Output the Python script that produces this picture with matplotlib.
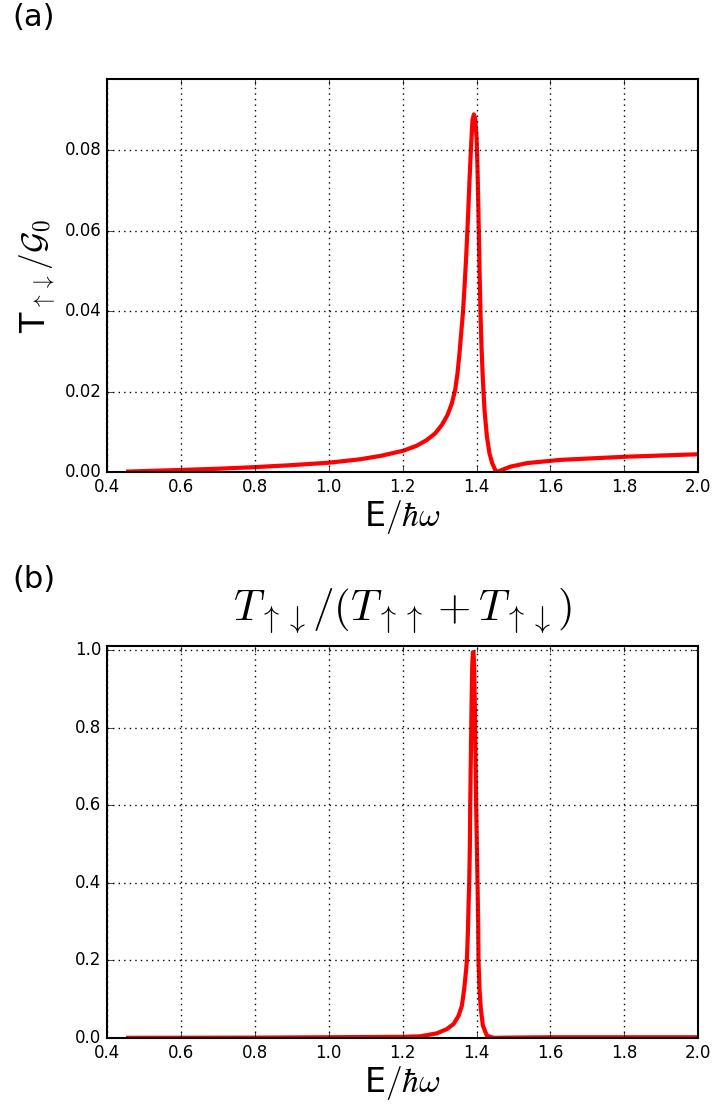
import matplotlib
matplotlib.use("Agg")
import matplotlib.pyplot as plt

plt.style.use("classic")
plt.rcParams["mathtext.fontset"] = "cm"
plt.rcParams["font.family"] = ["DejaVu Sans"]

# panel (a): T_updown / G0
e_a = [0.457, 0.6, 0.7, 0.8, 0.9, 1.0, 1.085, 1.1436, 1.2022, 1.2383, 1.2654,
       1.2879, 1.306, 1.3213, 1.3331, 1.342, 1.3483, 1.3537, 1.3583, 1.3629,
       1.3673, 1.3718, 1.3764, 1.3808, 1.3854, 1.3889, 1.3927, 1.3962, 1.3998,
       1.4024, 1.4051, 1.4078, 1.4106, 1.4133, 1.417, 1.4214, 1.4279, 1.4349,
       1.4422, 1.4504, 1.4566, 1.4685, 1.491, 1.5362, 1.626, 1.807, 2.0]
t_a = [0.0001, 0.0005, 0.0008, 0.0012, 0.0017, 0.0023, 0.00315, 0.00406,
       0.0053, 0.00654, 0.00795, 0.0096, 0.01168, 0.01416, 0.01706, 0.0204,
       0.0245, 0.0295, 0.0345, 0.0394, 0.046, 0.0535, 0.0626, 0.0725, 0.0817,
       0.0875, 0.0889, 0.0879, 0.0833, 0.0759, 0.0643, 0.051, 0.0394, 0.0311,
       0.0229, 0.0154, 0.0088, 0.0046, 0.0022, 0.0005, 0.0, 0.0005, 0.0013,
       0.0022, 0.003, 0.0038, 0.0044]

# panel (b): T_updown / (T_upup + T_updown)
e_b = [0.457, 0.8, 1.0, 1.2, 1.2473, 1.2924, 1.3195, 1.3376, 1.3511, 1.3601,
       1.3664, 1.3709, 1.3737, 1.3764, 1.3782, 1.380, 1.3818, 1.3827, 1.3845,
       1.3863, 1.3881, 1.3899, 1.3917, 1.3935, 1.3953, 1.3971, 1.3989, 1.4007,
       1.4025, 1.4043, 1.4052, 1.4079, 1.4115, 1.417, 1.4278, 1.4458, 1.4819,
       1.6, 1.8, 2.0]
t_b = [0.0005, 0.001, 0.002, 0.003, 0.0044, 0.012, 0.023, 0.036, 0.057, 0.083,
       0.126, 0.169, 0.199, 0.272, 0.34, 0.40, 0.494, 0.597, 0.726, 0.854,
       0.957, 0.995, 0.995, 0.957, 0.854, 0.726, 0.597, 0.494, 0.40, 0.297,
       0.199, 0.126, 0.075, 0.032, 0.006, 0.0005, 0.001, 0.002, 0.002, 0.002]

xticks = [0.4, 0.6, 0.8, 1.0, 1.2, 1.4, 1.6, 1.8, 2.0]

fig = plt.figure(figsize=(7.14, 11.11), dpi=100, facecolor="white")
ax1 = fig.add_axes([0.150, 0.5752, 0.828, 0.3537])
ax2 = fig.add_axes([0.150, 0.0657, 0.828, 0.3528])

ax1.plot(e_a, t_a, color="red", lw=3)
ax1.set_xlim(0.4, 2.0)
ax1.set_ylim(0, 0.0977)
ax1.set_yticks([0.0, 0.02, 0.04, 0.06, 0.08])
ax1.set_yticklabels(["0.00", "0.02", "0.04", "0.06", "0.08"])

ax2.plot(e_b, t_b, color="red", lw=3)
ax2.set_xlim(0.4, 2.0)
ax2.set_ylim(0, 1.011)
ax2.set_yticks([0.0, 0.2, 0.4, 0.6, 0.8, 1.0])
ax2.set_title(r"$T_{\uparrow\downarrow}/(T_{\uparrow\uparrow}+T_{\uparrow\downarrow})$",
              fontsize=31, y=1.047)

for ax in (ax1, ax2):
    ax.set_xticks(xticks)
    ax.grid(True, color="black", linestyle=":", lw=1)
    ax.tick_params(labelsize=12)
    ax.set_xlabel(r"E$/\hbar\omega$", fontsize=24, labelpad=2)
    for s in ax.spines.values():
        s.set_linewidth(1.5)

ax1.set_ylabel(r"T$_{\uparrow\downarrow}/\mathcal{G}_0$", fontsize=24)

fig.text(0.018, 0.984, "(a)", fontsize=22, va="center", ha="left")
fig.text(0.018, 0.478, "(b)", fontsize=22, va="center", ha="left")

fig.savefig("out.png", dpi=100, facecolor="white")
